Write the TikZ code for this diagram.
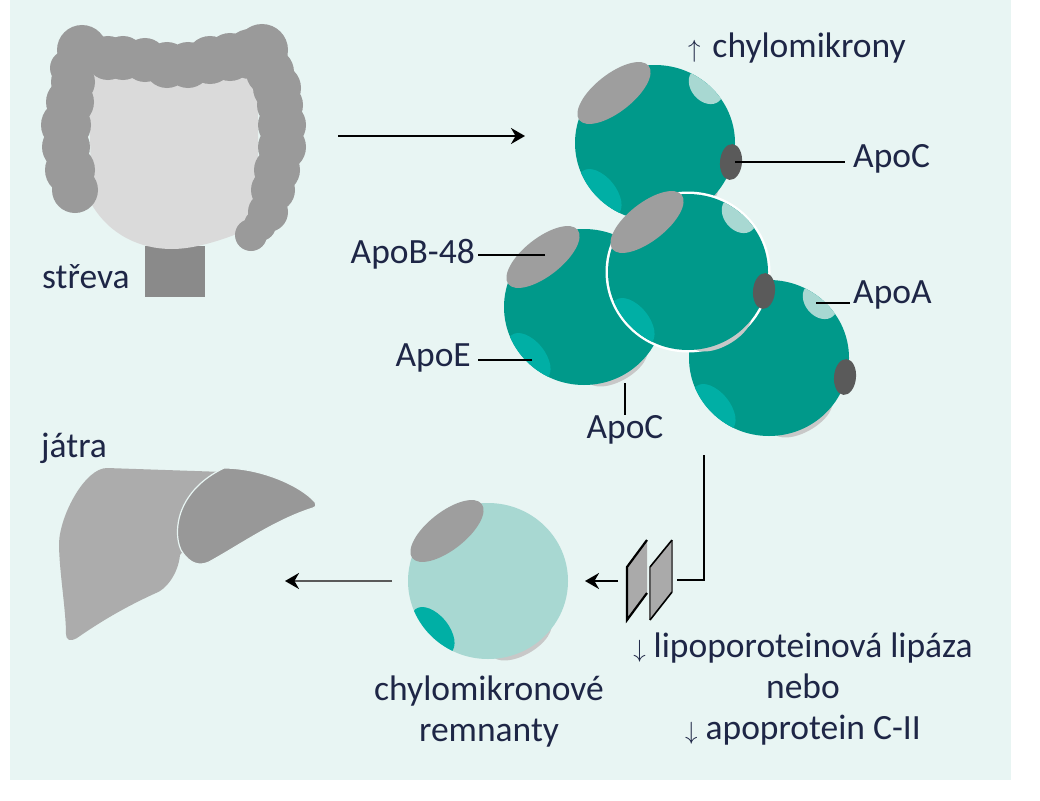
\documentclass[tikz,border=0pt]{standalone}
\usepackage{fontspec}
\setmainfont{Carlito}
\usetikzlibrary{arrows.meta}
\tikzset{
    labeltext/.style={font=\fontsize{35.5}{41}\selectfont,text=labelink,inner sep=0pt,align=center},
    leader/.style={draw=black,line width=2.2pt},
    flowline/.style={draw=black,line width=2.2pt,-{Stealth[length=14pt,width=16pt,color=black]}},
    coloncirc/.style={fill=colongrey},
    membrane/.style={fill=membranegrey},
}
% one particle, outline given around its own centre
\newcommand{\chyloshape}{(0,0) ellipse[x radius=80,y radius=78]}
\newcommand{\chylobody}[2]{
    \begin{scope}[shift={(#1)}]
    \fill[shadowgrey] (33,57) ellipse[x radius=34,y radius=17,rotate=30];
    \fill[#2] \chyloshape;
    \begin{scope}
    \clip \chyloshape;
    \fill[apoeteal] (-55,50) ellipse[x radius=28,y radius=16,rotate=-51];
    \end{scope}
    \fill[apobgrey] (-41,-50) ellipse[x radius=44,y radius=19,rotate=38];
    \end{scope}
}
\newcommand{\chylodetail}[1]{
    \begin{scope}[shift={(#1)}]
    \begin{scope}
    \clip \chyloshape;
    \fill[apoalight] (51,-57) ellipse[x radius=20,y radius=15,rotate=-50];
    \end{scope}
    \fill[apocdark] (76,19) ellipse[x radius=18,y radius=11,rotate=85];
    \end{scope}
}
\begin{document}
\begin{tikzpicture}[x=1pt,y=-1pt]
    \definecolor{pagebg}{RGB}{232,245,243}
    \definecolor{labelink}{RGB}{30,38,70}
    \definecolor{colongrey}{RGB}{154,154,154}
    \definecolor{gutlight}{RGB}{218,218,218}
    \definecolor{stemgrey}{RGB}{138,138,138}
    \definecolor{chyloteal}{RGB}{0,153,138}
    \definecolor{apoeteal}{RGB}{0,175,165}
    \definecolor{apoalight}{RGB}{168,216,210}
    \definecolor{apobgrey}{RGB}{158,158,158}
    \definecolor{apocdark}{RGB}{90,90,90}
    \definecolor{shadowgrey}{RGB}{200,200,200}
    \definecolor{liverleft}{RGB}{172,172,172}
    \definecolor{liverright}{RGB}{152,152,152}
    \definecolor{membranegrey}{RGB}{170,170,170}
    \useasboundingbox (0,0) rectangle (1040,800);
    \fill[white] (0,0) rectangle (1040,800);
    \fill[pagebg] (10,0) rectangle (1011,780);
    % streva
    \fill[stemgrey] (145,246) rectangle (205,297);
    \fill[gutlight] (88,70) -- (258,70) -- (258,225) .. controls (225,240) and (195,249) .. (172,249) .. controls (140,249) and (110,235) .. (92,205) -- cycle;
    \foreach \cx/\cy/\cr in {75/190/23,70/170/25,66/147/24,66/125/25,70/102/24,73/82/22,68/68/18,82/50/25,108/58/22,123/58/22,145/60/22,167/65/23,188/65/23,210/60/24,230/57/24,250/54/25,262/50/26,270/72/24,277/88/24,280/105/23,282/125/24,282/147/24,277/170/23,273/190/22,268/212/20,251/235/16,260/225/16}
        \fill[coloncirc] (\cx,\cy) circle (\cr);
    \node[labeltext,anchor=west] (streva) at (42,277) {střeva};
    % jatra
    \fill[liverleft] (107,468) -- (224,472) -- (200,530) -- (180,555) .. controls (178,575) and (165,590) .. (156,593) .. controls (125,607) and (100,622) .. (77,638) .. controls (70,642) and (66,640) .. (66,634) .. controls (66,610) and (59,570) .. (59,543) .. controls (60,515) and (85,468) .. (107,468) -- cycle;
    \fill[liverright,draw=pagebg,line width=1.2pt] (224,468) .. controls (260,468) and (300,485) .. (315,502) .. controls (317,506) and (315,508) .. (313,508) .. controls (275,520) and (240,545) .. (209,562) .. controls (200,566) and (190,565) .. (181,550) .. controls (172,530) and (178,490) .. (224,468) -- cycle;
    \node[labeltext,anchor=west] (jatra) at (41,448) {játra};
    % castice
    \chylobody{655,143}{chyloteal}
    \chylodetail{655,143}
    \chylobody{584,307}{chyloteal}
    \chylobody{769,358}{chyloteal}
    \chylodetail{769,358}
    \fill[white] (688,272) ellipse[x radius=82.5,y radius=80.5];
    \chylobody{688,272}{chyloteal}
    \chylodetail{688,272}
    \chylobody{488,581}{apoalight}
    % popisky
    \node[labeltext,anchor=west] (chylo) at (688,48) {$\uparrow$\,\,chylomikrony};
    \node[labeltext,anchor=west] (apoctop) at (853,159) {ApoC};
    \node[labeltext,anchor=west] (apoa) at (853,295) {ApoA};
    \node[labeltext,anchor=east] (apob) at (475,254) {ApoB-48};
    \node[labeltext,anchor=east] (apoe) at (471,358) {ApoE};
    \node[labeltext] (apocbottom) at (625,430) {ApoC};
    \node[labeltext] (remnant) at (489,712) {chylomikronové\\remnanty};
    \node[labeltext] (lipaza) at (803,689) {$\downarrow$ lipoporoteinová lipáza\\nebo\\$\downarrow$ apoprotein C-II};
    % vodici cary
    \coordinate (tipapoc) at (735,162);
    \coordinate (tipapoa) at (816,303);
    \coordinate (tipapob) at (545,255);
    \coordinate (tipapoe) at (532,360);
    \coordinate (tipapocb) at (625,383);
    \path[leader,shorten >=8pt] (tipapoc) -- (tipapoc -| apoctop.west);
    \path[leader,shorten >=3pt] (tipapoa) -- (tipapoa -| apoa.west);
    \path[leader,shorten >=3pt] (tipapob) -- (tipapob -| apob.east);
    \path[leader,shorten >=7pt] (tipapoe) -- (tipapoe -| apoe.east);
    \path[leader] (tipapocb) -- (apocbottom.north);
    % sipky
    \coordinate (gutout) at (338,136);
    \coordinate (chyloin) at (525,136);
    \path[flowline] (gutout) -- (chyloin);
    \coordinate (chylodown) at (704,455);
    \coordinate (chylocorner) at (704,580);
    \coordinate (lipout) at (677,580);
    \path[leader] (chylodown) -- (chylocorner) -- (lipout);
    \coordinate (memleft) at (618,581);
    \coordinate (remin) at (585,581);
    \path[flowline] (memleft) -- (remin);
    \coordinate (remout) at (392,581);
    \coordinate (liverin) at (285,581);
    \path[flowline,draw=apocdark] (remout) -- (liverin);
    % membrana
    \fill[membrane] (627,620) -- (627,567) -- (647,540) -- (647,593) -- cycle;
    \fill[membrane] (650,620) -- (650,567) -- (672,540) -- (672,592) -- cycle;
    \draw[leader] (647,540) -- (627,567) -- (627,620) -- (647,593);
    \draw[apocdark,line width=1.6pt] (650,620) -- (650,567);
    \draw[apocdark,line width=1.6pt] (672,540) -- (672,592);
    \draw[leader,line width=1.6pt] (672,540) -- (650,567);
    \draw[leader,line width=1.6pt] (650,620) -- (672,592);
    \end{tikzpicture}
\end{document}
